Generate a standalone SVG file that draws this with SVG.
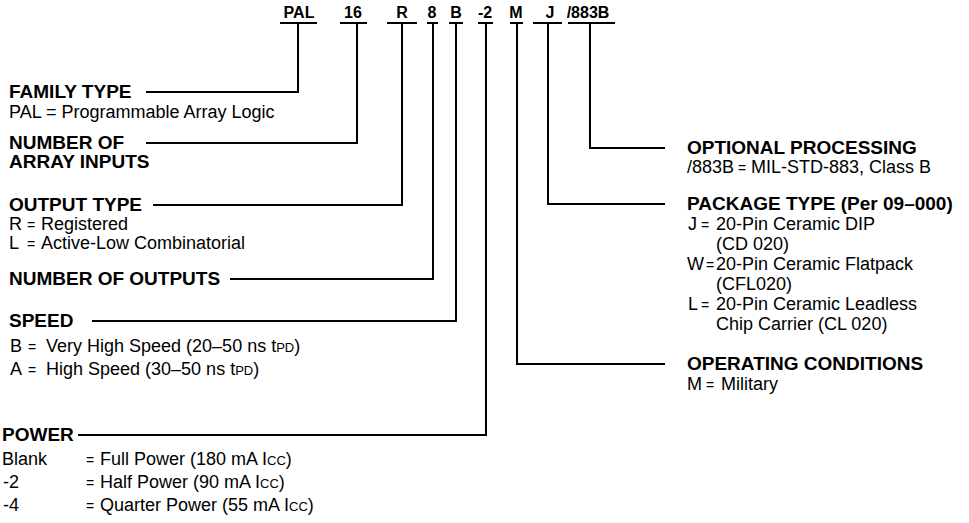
<svg xmlns="http://www.w3.org/2000/svg" width="969" height="523" viewBox="0 0 969 523">
<style>
text{font-family:"Liberation Sans",Arial,Helvetica,sans-serif;fill:#000}
.code{font-size:16px;font-weight:bold;text-anchor:middle}
.h{font-size:19px;font-weight:bold}
.t{font-size:18px}
.eq{font-size:14px;text-anchor:middle}
.s{font-size:13px}
.ln{fill:none;stroke:#000;stroke-width:2}
</style>
<rect width="969" height="523" fill="#fff"/>
<g id="codes">
<text class="code" x="299" y="18">PAL</text>
<text class="code" x="353" y="18">16</text>
<text class="code" x="402" y="18">R</text>
<text class="code" x="432" y="18">8</text>
<text class="code" x="456" y="18">B</text>
<text class="code" x="485" y="18">-2</text>
<text class="code" x="516" y="18">M</text>
<text class="code" x="550" y="18">J</text>
<text class="code" x="588" y="18">/883B</text>
</g>
<g id="connectors" class="ln">
<path d="M280 23H317 M298 23V92H146"/>
<path d="M340 23H367 M357 23V143H146"/>
<path d="M387 23H417 M402 23V205H153"/>
<path d="M427 23H438 M433 23V279H230"/>
<path d="M449 23H463 M456 23V321H92"/>
<path d="M478 23H493 M486 23V435H78"/>
<path d="M510 23H523 M517 23V364H665"/>
<path d="M533 23H562 M548 23V204H665"/>
<path d="M568 23H615 M590 23V148H665"/>
</g>
<g id="family">
<text class="h" x="9" y="98">FAMILY TYPE</text>
<text class="t" x="9" y="118">PAL = Programmable Array Logic</text>
</g>
<g id="inputs">
<text class="h" x="9" y="149">NUMBER OF</text>
<text class="h" x="9" y="168">ARRAY INPUTS</text>
</g>
<g id="output-type">
<text class="h" x="9" y="211">OUTPUT TYPE</text>
<text class="t" x="9" y="230">R</text><text class="eq" x="31" y="230">=</text><text class="t" x="41" y="230">Registered</text>
<text class="t" x="9" y="249">L</text><text class="eq" x="31" y="249">=</text><text class="t" x="41" y="249">Active-Low Combinatorial</text>
</g>
<g id="outputs">
<text class="h" x="9" y="285">NUMBER OF OUTPUTS</text>
</g>
<g id="speed">
<text class="h" x="9" y="327">SPEED</text>
<text class="t" x="10" y="352">B</text><text class="eq" x="32" y="352">=</text><text class="t" x="46" y="352">Very High Speed (20–50 ns t<tspan class="s">PD</tspan>)</text>
<text class="t" x="10" y="375">A</text><text class="eq" x="32" y="375">=</text><text class="t" x="46" y="375">High Speed (30–50 ns t<tspan class="s">PD</tspan>)</text>
</g>
<g id="power">
<text class="h" x="2" y="441">POWER</text>
<text class="t" x="2" y="465">Blank</text><text class="eq" x="90" y="465">=</text><text class="t" x="100" y="465">Full Power (180 mA I<tspan class="s">CC</tspan>)</text>
<text class="t" x="3" y="488">-2</text><text class="eq" x="90" y="488">=</text><text class="t" x="100" y="488">Half Power (90 mA I<tspan class="s">CC</tspan>)</text>
<text class="t" x="3" y="511">-4</text><text class="eq" x="90" y="511">=</text><text class="t" x="100" y="511">Quarter Power (55 mA I<tspan class="s">CC</tspan>)</text>
</g>
<g id="optional">
<text class="h" x="687" y="154">OPTIONAL PROCESSING</text>
<text class="t" x="687" y="173">/883B</text><text class="eq" x="742" y="173">=</text><text class="t" x="751" y="173">MIL-STD-883, Class B</text>
</g>
<g id="package">
<text class="h" x="687" y="210">PACKAGE TYPE (Per 09–000)</text>
<text class="t" x="688" y="230">J</text><text class="eq" x="705" y="230">=</text><text class="t" x="716" y="230">20-Pin Ceramic DIP</text>
<text class="t" x="716" y="250">(CD 020)</text>
<text class="t" x="687" y="270">W</text><text class="eq" x="710" y="270">=</text><text class="t" x="716" y="270">20-Pin Ceramic Flatpack</text>
<text class="t" x="716" y="290">(CFL020)</text>
<text class="t" x="688" y="310">L</text><text class="eq" x="705" y="310">=</text><text class="t" x="716" y="310">20-Pin Ceramic Leadless</text>
<text class="t" x="716" y="330">Chip Carrier (CL 020)</text>
</g>
<g id="conditions">
<text class="h" x="687" y="370">OPERATING CONDITIONS</text>
<text class="t" x="687" y="390">M</text><text class="eq" x="710" y="390">=</text><text class="t" x="721" y="390">Military</text>
</g>
</svg>
